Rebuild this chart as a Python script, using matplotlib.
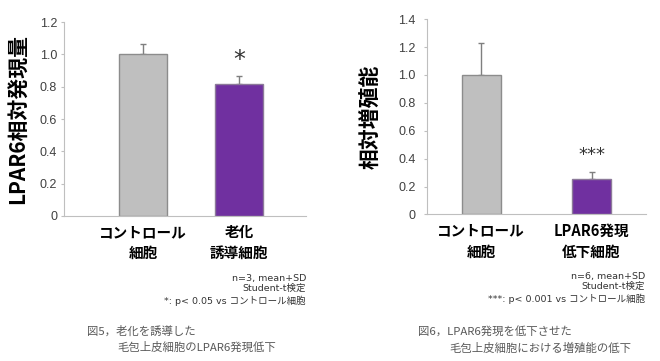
import numpy as np
import matplotlib.pyplot as plt

plt.rcParams['font.family'] = ['Noto Sans CJK JP', 'DejaVu Sans']

# 図5 データ
cats5 = ['コントロール\n細胞', '老化\n誘導細胞']
vals5 = [1.0, 0.818]
err5 = [0.067, 0.046]
yticks5 = [0, 0.2, 0.4, 0.6, 0.8, 1.0, 1.2]
ytlabels5 = ['0', '0.2', '0.4', '0.6', '0.8', '1.0', '1.2']

# 図6 データ
cats6 = ['コントロール\n細胞', 'LPAR6発現\n低下細胞']
vals6 = [1.0, 0.253]
err6 = [0.23, 0.05]
yticks6 = [0, 0.2, 0.4, 0.6, 0.8, 1.0, 1.2, 1.4]
ytlabels6 = ['0', '0.2', '0.4', '0.6', '0.8', '1.0', '1.2', '1.4']

bar_colors = ['#BFBFBF', '#7030A0']
edge_colors = ['#8C8C8C', '#8C7A99']
tick_color = '#404040'

fig = plt.figure(figsize=(6.6, 3.61), dpi=100)


def draw_panel(ax, cats, vals, errs, yticks, ytlabels, width, xlim, ylabel, ylabel_x, ypad):
    x = np.arange(len(cats))
    ax.bar(x, vals, width=width, color=bar_colors, edgecolor=edge_colors, linewidth=1.0, zorder=2)
    ax.errorbar(x, vals, yerr=[np.zeros(len(vals)), errs], fmt='none', ecolor='#7F7F7F',
                elinewidth=1.0, capsize=2.5, capthick=1.0, zorder=1)
    ax.set_xlim(*xlim)
    ax.set_ylim(0, yticks[-1])
    ax.set_yticks(yticks)
    ax.set_yticklabels(ytlabels, family='Liberation Sans', fontsize=9, color=tick_color)
    ax.set_xticks(x)
    ax.set_xticklabels(cats, fontsize=10.5, fontweight='bold', linespacing=1.35)
    ax.tick_params(axis='x', length=0, pad=6)
    ax.tick_params(axis='y', length=2.5, color='#BFBFBF', pad=ypad)
    for s in ['top', 'right']:
        ax.spines[s].set_visible(False)
    for s in ['left', 'bottom']:
        ax.spines[s].set_color('#BFBFBF')
        ax.spines[s].set_linewidth(0.8)
    ax.set_ylabel(ylabel, fontsize=15, fontweight='bold')
    ax.yaxis.set_label_coords(ylabel_x, 0.5)
    return x


ax1 = fig.add_axes([0.097, 0.4017, 0.367, 0.537])
x1 = draw_panel(ax1, cats5, vals5, err5, yticks5, ytlabels5, 0.5, (-0.823, 1.698),
                'LPAR6相対発現量', -0.145, 2.5)
ax1.text(x1[1], vals5[1] + err5[1] + 0.1, '*', ha='center', va='center', fontsize=17,
         family='DejaVu Sans', color='#333333')

ax2 = fig.add_axes([0.6465, 0.406, 0.3325, 0.541])
x2 = draw_panel(ax2, cats6, vals6, err6, yticks6, ytlabels6, 0.354, (-0.495, 1.495),
                '相対増殖能', -0.204, 5.5)
ax2.text(x2[1], vals6[1] + err6[1] + 0.12, '***', ha='center', va='center', fontsize=13,
         family='DejaVu Sans', color='#333333')

# 注記
note_kw = dict(ha='right', va='center', fontsize=6.8, color='#333333',
               family=['DejaVu Sans', 'Noto Sans CJK JP'])
fig.text(306 / 660, 1 - 278 / 361, 'n=3, mean+SD', **note_kw)
fig.text(306 / 660, 1 - 288 / 361, 'Student-t検定', **note_kw)
fig.text(306 / 660, 1 - 301 / 361, '*: p< 0.05 vs コントロール細胞', **note_kw)
fig.text(645 / 660, 1 - 276 / 361, 'n=6, mean+SD', **note_kw)
fig.text(645 / 660, 1 - 286 / 361, 'Student-t検定', **note_kw)
fig.text(645 / 660, 1 - 299 / 361, '***: p< 0.001 vs コントロール細胞', **note_kw)

# 図タイトル
cap_kw = dict(ha='left', va='center', fontsize=8.2, color='#595959')
fig.text(87 / 660, 1 - 331 / 361, '図5，老化を誘導した', **cap_kw)
fig.text(117 / 660, 1 - 347 / 361, '毛包上皮細胞のLPAR6発現低下', **cap_kw)
fig.text(418 / 660, 1 - 332 / 361, '図6，LPAR6発現を低下させた', **cap_kw)
fig.text(449 / 660, 1 - 348 / 361, '毛包上皮細胞における増殖能の低下', **cap_kw)

fig.savefig('out.png', dpi=100)
